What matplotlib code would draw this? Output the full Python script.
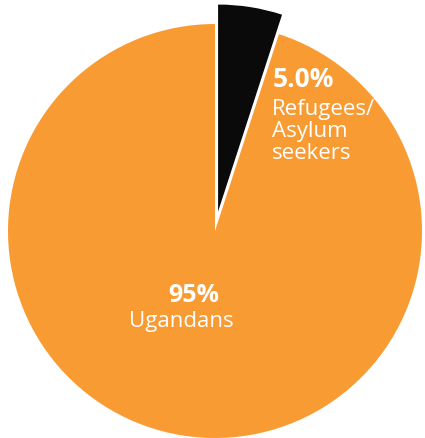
import matplotlib
matplotlib.use("Agg")
import matplotlib.pyplot as plt

# share of population by group
groups = ["Refugees/\nAsylum\nseekers", "Ugandans"]
shares = [5.0, 95]
share_labels = ["5.0%", "95%"]
colors = ["#0a0a0a", "#f99b33"]

W, H = 425, 439
CX, CY, R = 215, 232, 207  # pie centre and radius in pixels (from top-left)

fig = plt.figure(figsize=(W / 100, H / 100), dpi=100)
ax = fig.add_axes([0, 0, 1, 1])
ax.pie(shares, colors=colors, startangle=90, counterclock=False,
       explode=[0.095, 0], radius=1.0,
       wedgeprops=dict(linewidth=0))
ax.set_aspect("auto")
ax.set_xlim(-CX / R, (W - CX) / R)
ax.set_ylim(-(H - CY) / R, CY / R)
ax.axis("off")

font = ["Open Sans", "DejaVu Sans"]


def px(x, y):
    return x / W, 1 - y / H


# refugee label
ax.text(*px(273, 87), share_labels[0], transform=fig.transFigure, color="white",
        fontsize=19, fontweight="bold", family=font, ha="left", va="baseline")
ax.text(*px(272, 99), groups[0], transform=fig.transFigure, color="white",
        fontsize=16, family=font, ha="left", va="top", linespacing=1.05)

# uganda label
ax.text(*px(194, 302), share_labels[1], transform=fig.transFigure, color="white",
        fontsize=18, fontweight="bold", family=font, ha="center", va="baseline")
ax.text(*px(181, 327), groups[1], transform=fig.transFigure, color="white",
        fontsize=16, family=font, ha="center", va="baseline")

fig.savefig("out.png", dpi=100)
